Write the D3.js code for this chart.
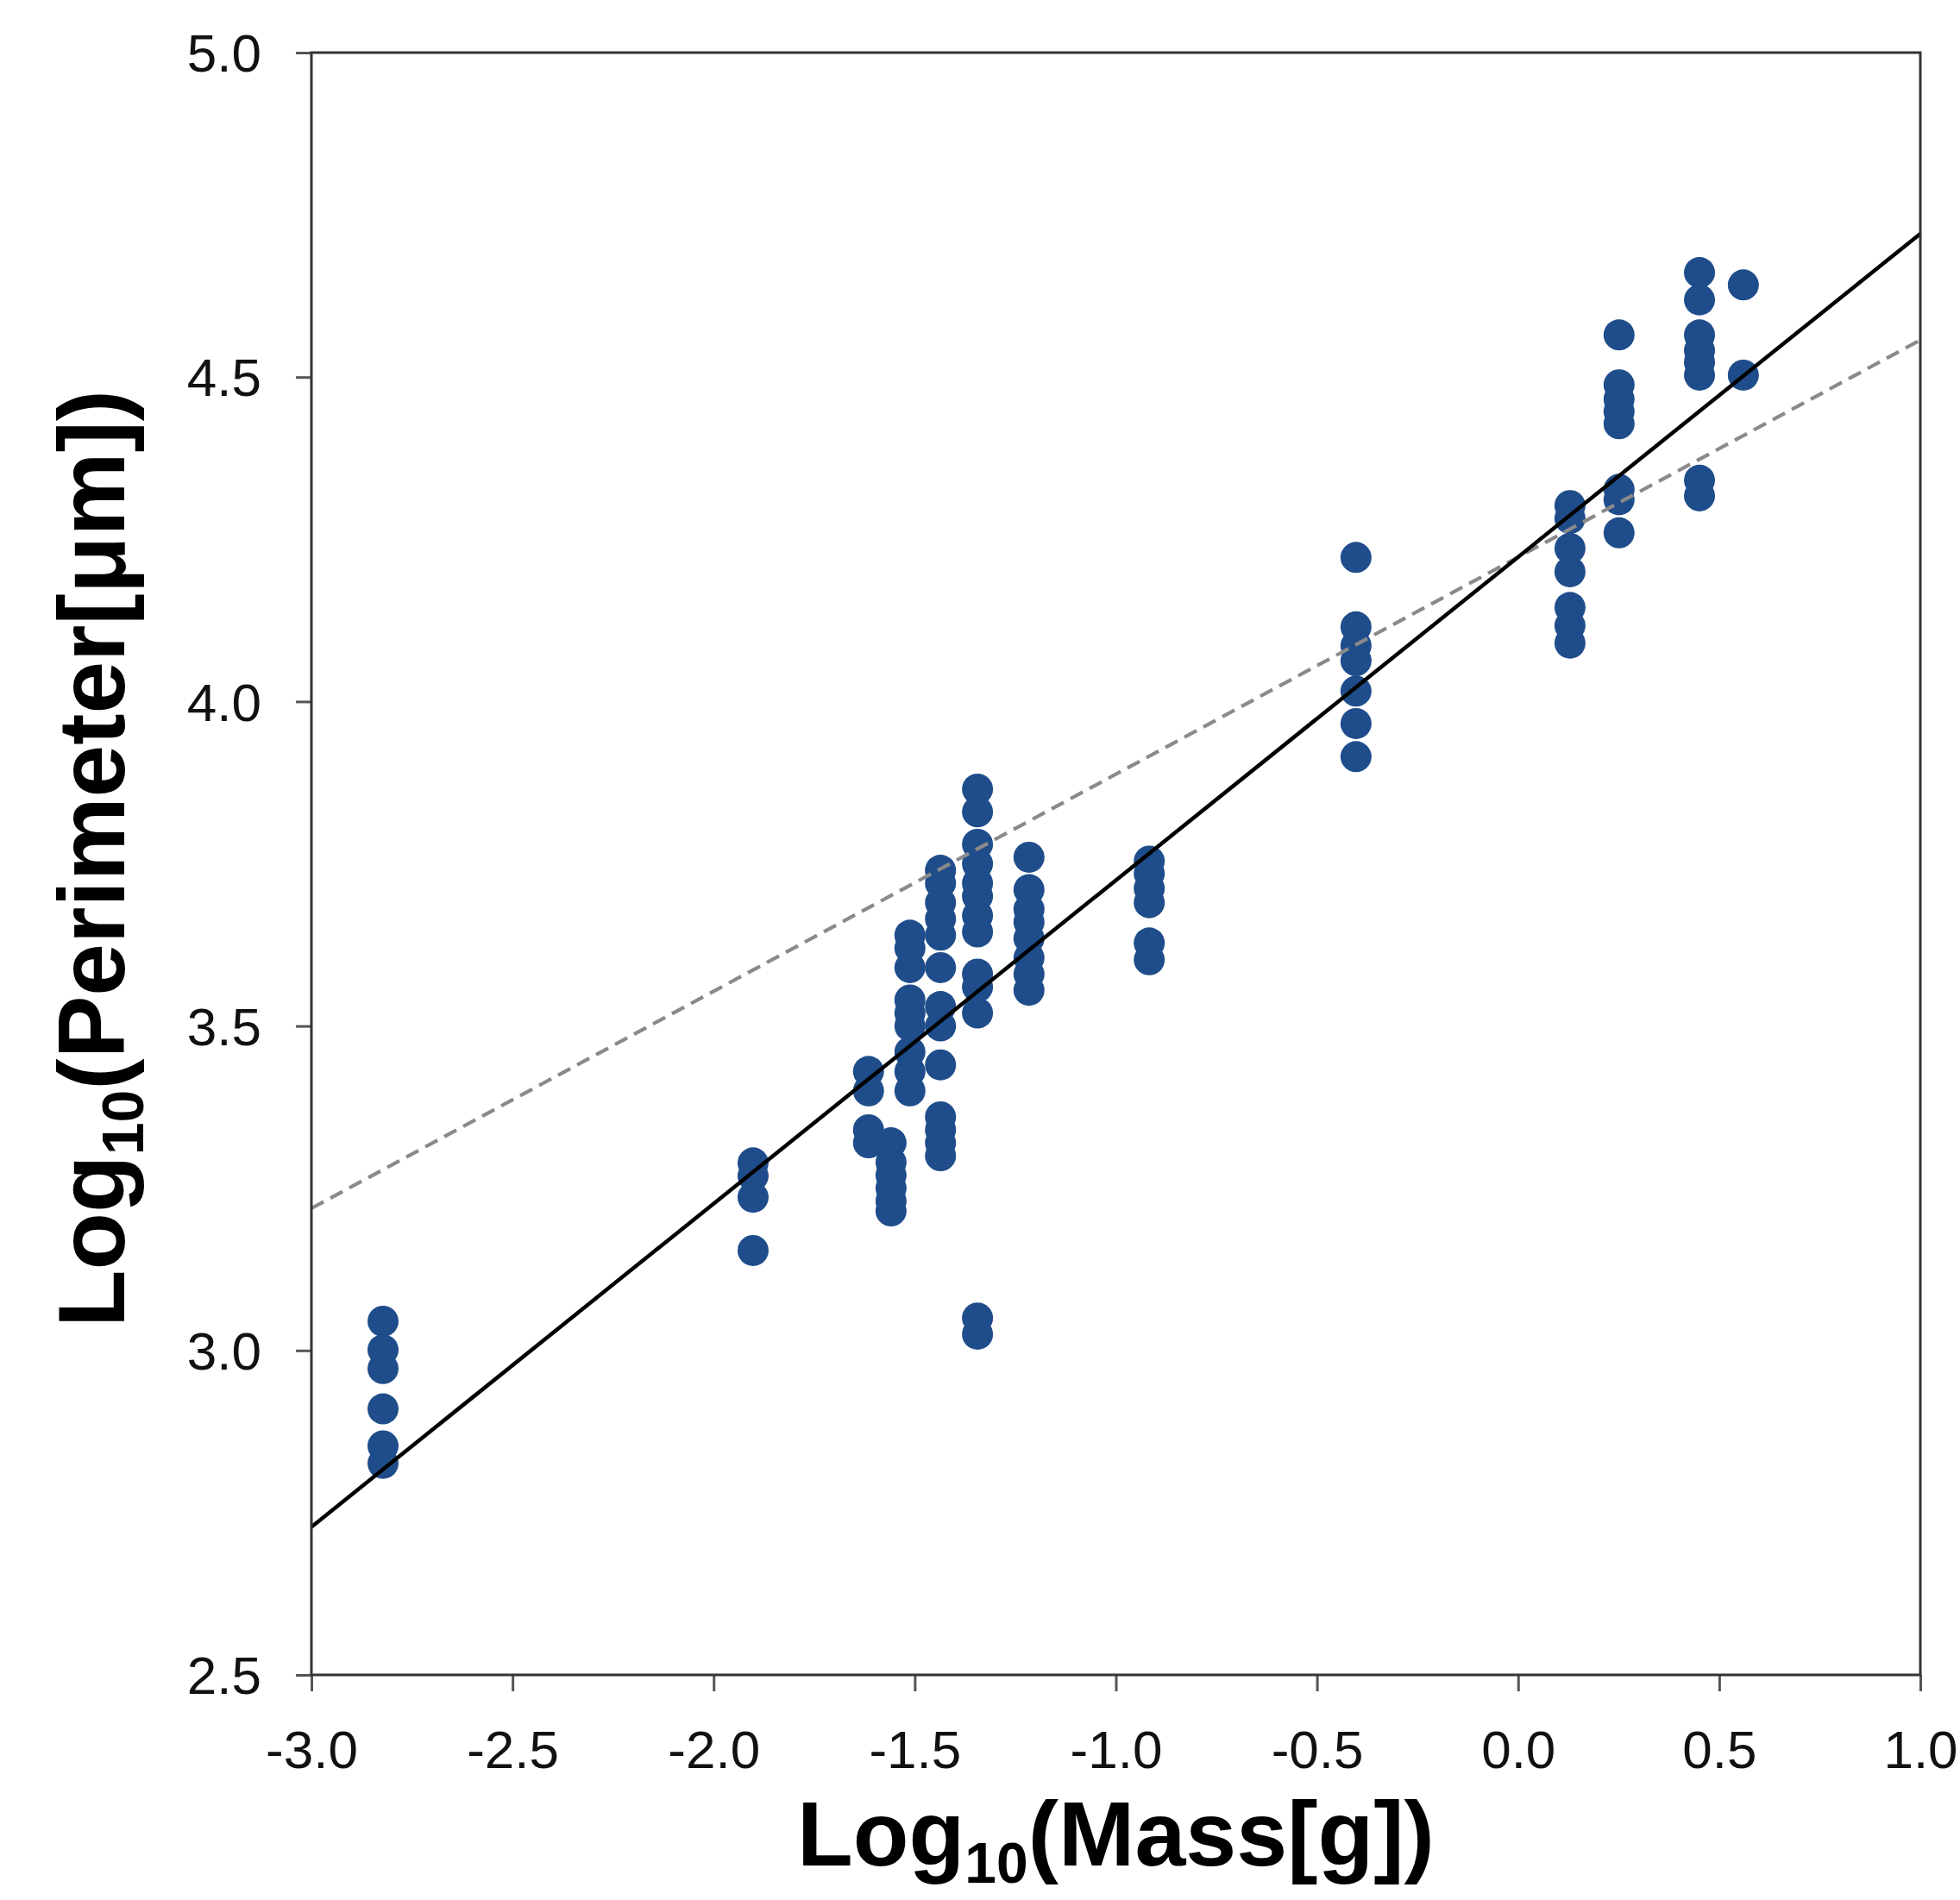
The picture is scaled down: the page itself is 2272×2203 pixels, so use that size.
<!DOCTYPE html>
<html><head><meta charset="utf-8">
<script src="https://cdn.jsdelivr.net/npm/d3@7"></script>
<style>html,body{margin:0;padding:0;background:#fff;} svg{display:block}</style>
</head><body>
<script>
// ---- data ----
const massLog = [-2.822, -1.902, -1.615, -1.559, -1.512, -1.436, -1.344, -1.216, -0.917, -0.403, 0.129, 0.251, 0.451, 0.560];
const perimeterLog = [
  [3.045, 3.001, 2.972, 2.910, 2.853, 2.826],
  [3.289, 3.269, 3.236, 3.154],
  [3.43, 3.40, 3.34, 3.32],
  [3.32, 3.29, 3.27, 3.25, 3.23, 3.215],
  [3.64, 3.62, 3.59, 3.54, 3.52, 3.50, 3.46, 3.43, 3.40],
  [3.74, 3.72, 3.69, 3.665, 3.64, 3.59, 3.53, 3.50, 3.44, 3.36, 3.34, 3.32, 3.30],
  [3.865, 3.83, 3.78, 3.75, 3.72, 3.70, 3.67, 3.645, 3.58, 3.56, 3.52, 3.05, 3.025],
  [3.76, 3.71, 3.68, 3.66, 3.635, 3.605, 3.58, 3.555],
  [3.754, 3.735, 3.712, 3.69, 3.628, 3.602],
  [4.222, 4.115, 4.086, 4.063, 4.016, 3.966, 3.915],
  [4.302, 4.282, 4.236, 4.20, 4.145, 4.117, 4.09],
  [4.565, 4.488, 4.466, 4.447, 4.428, 4.327, 4.311, 4.26],
  [4.661, 4.619, 4.565, 4.541, 4.523, 4.503, 4.341, 4.317],
  [4.642, 4.503]
];
const xTicks = [-3.0, -2.5, -2.0, -1.5, -1.0, -0.5, 0.0, 0.5, 1.0];
const yTicks = [2.5, 3.0, 3.5, 4.0, 4.5, 5.0];
const fitX = [-3.0, 1.0];
const fitSolid = [2.728, 4.721];
const fitDashed = [3.219, 4.557];

// ---- layout ----
const W = 2272, H = 2203;
const L = 361, R = 2226, T = 61, B = 1942;
const FONT = "'Liberation Sans', Arial, Helvetica, sans-serif";

const svg = d3.select("body").append("svg").attr("width", W).attr("height", H)
  .style("font-family", FONT);
svg.append("rect").attr("width", W).attr("height", H).attr("fill", "#fff");

const x = d3.scaleLinear().domain([-3, 1]).range([L, R]);
const y = d3.scaleLinear().domain([2.5, 5]).range([B, T]);

// points
const pts = [];
massLog.forEach((mx, i) => perimeterLog[i].forEach(py => pts.push([mx, py])));
svg.append("g").selectAll("circle").data(pts).join("circle")
  .attr("cx", d => x(d[0])).attr("cy", d => y(d[1])).attr("r", 18)
  .attr("fill", "#1f4d8b");

// fit lines
const line = d3.line().x(d => x(d[0])).y(d => y(d[1]));
svg.append("path").datum(fitX.map((v, i) => [v, fitDashed[i]]))
  .attr("d", line).attr("fill", "none").attr("stroke", "#8a8a8a")
  .attr("stroke-width", 4.2).attr("stroke-dasharray", "16,9");
svg.append("path").datum(fitX.map((v, i) => [v, fitSolid[i]]))
  .attr("d", line).attr("fill", "none").attr("stroke", "#000")
  .attr("stroke-width", 4.5);

// axes
const xAxis = d3.axisBottom(x).tickValues(xTicks).tickFormat(d => d.toFixed(1))
  .tickSize(19).tickSizeOuter(0).tickPadding(0);
const gx = svg.append("g").attr("transform", `translate(0,${B})`).call(xAxis);
gx.select(".domain").remove();
gx.selectAll(".tick line").attr("stroke", "#555").attr("stroke-width", 3);
gx.selectAll(".tick text").attr("dy", null).attr("y", 108)
  .attr("font-size", 62).attr("fill", "#111").style("font-family", FONT);

const yAxis = d3.axisLeft(y).tickValues(yTicks).tickFormat(d => d.toFixed(1))
  .tickSize(18).tickSizeOuter(0).tickPadding(0);
const gy = svg.append("g").attr("transform", `translate(${L},0)`).call(yAxis);
gy.select(".domain").remove();
gy.selectAll(".tick line").attr("stroke", "#555").attr("stroke-width", 3);
gy.selectAll(".tick text").attr("x", -58).attr("dy", "0.35em")
  .attr("font-size", 62).attr("fill", "#111").style("font-family", FONT);

// frame
svg.append("rect").attr("x", L).attr("y", T).attr("width", R - L).attr("height", B - T)
  .attr("fill", "none").attr("stroke", "#333").attr("stroke-width", 3);

// titles
function title(g, main, rest, sub, shift) {
  g.append("tspan").text(main);
  g.append("tspan").text("10").attr("font-size", sub).attr("dy", shift);
  g.append("tspan").text(rest).attr("dy", -shift);
}
const xt = svg.append("text").attr("x", (L + R) / 2).attr("y", 2163)
  .attr("text-anchor", "middle").attr("font-size", 106).attr("font-weight", "bold").attr("fill", "#000");
title(xt, "Log", "(Mass[g])", 66, 20);

const yt = svg.append("text").attr("transform", `translate(144,${(T + B) / 2 - 6}) rotate(-90)`)
  .attr("text-anchor", "middle").attr("font-size", 109).attr("font-weight", "bold").attr("fill", "#000");
title(yt, "Log", "(Perimeter[μm])", 68, 22);
</script>
</body></html>
